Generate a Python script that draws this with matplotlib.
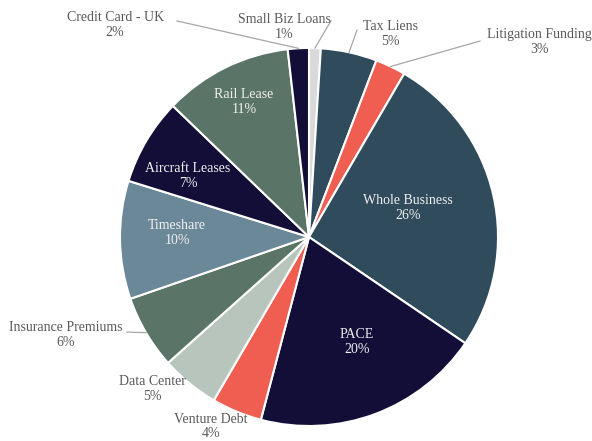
import matplotlib.pyplot as plt
import numpy as np

# slices, clockwise from 12 o'clock
names = ["Small Biz Loans", "Tax Liens", "Litigation Funding", "Whole Business", "PACE",
         "Venture Debt", "Data Center", "Insurance Premiums", "Timeshare", "Aircraft Leases",
         "Rail Lease", "Credit Card - UK"]
shares = [1.0, 4.8, 2.6, 26.1, 19.6, 4.3, 5.0, 6.3, 10.1, 7.4, 11.0, 1.8]

slate = "#2f4b5c"
coral = "#ef5e50"
navy = "#120e38"
sage = "#b8c5bd"
green = "#5a7567"
steel = "#6b8898"
colors = ["#d9d9d9", slate, coral, slate, navy, coral, sage, green, steel, navy, green, navy]

# label centres (pie radius = 1), inside or outside
label_pos = [(-0.13, 1.11), (0.43, 1.075), (1.217, 1.032), (0.524, 0.153), (0.254, -0.556),
             (-0.519, -1.003), (-0.831, -0.804), (-1.286, -0.519), (-0.698, 0.021),
             (-0.640, 0.323), (-0.344, 0.714), (-1.026, 1.122)]
inside = [False, False, False, True, True, False, False, False, True, True, True, False]
# where leader lines meet the text
line_end = {0: (0.116, 1.143), 1: (0.254, 1.095), 2: (0.905, 1.037),
            7: (-0.963, -0.503), 11: (-0.698, 1.143)}

plt.rcParams['font.family'] = ['Liberation Serif', 'DejaVu Serif']

fig = plt.figure(figsize=(5.92, 4.41), dpi=100)
ax = fig.add_axes([0, 0, 1, 1])
wedges, _ = ax.pie(shares, colors=colors, startangle=90, counterclock=False,
                   wedgeprops=dict(edgecolor="white", linewidth=1.5))

for i, w in enumerate(wedges):
    txt = "%s\n%.0f%%" % (names[i], shares[i])
    x, y = label_pos[i]
    c = "#f0f0f0" if inside[i] else "#595959"
    ax.text(x, y, txt, ha="center", va="center", fontsize=10, color=c, linespacing=1.15)
    if i in line_end:
        ang = np.deg2rad((w.theta1 + w.theta2) / 2)
        ex, ey = line_end[i]
        ax.plot([np.cos(ang), ex], [np.sin(ang), ey], color="#a6a6a6", lw=0.9)

# 1 unit = 189 px, centre at (309, 237) px
ax.set_xlim(-309 / 189, (592 - 309) / 189)
ax.set_ylim(-(441 - 237) / 189, 237 / 189)
ax.set_aspect("auto")
ax.axis("off")

fig.savefig("out.png", dpi=100)
